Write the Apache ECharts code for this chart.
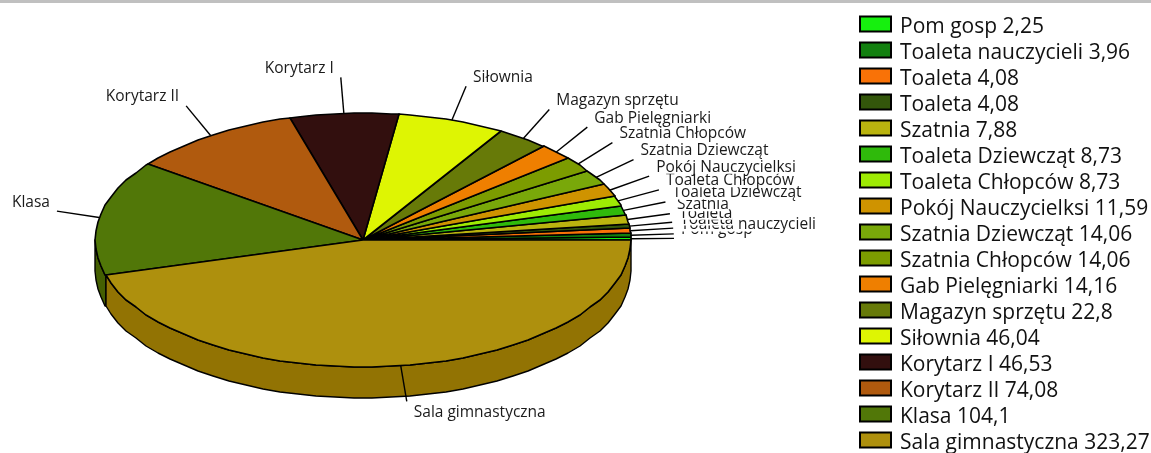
<!DOCTYPE html>
<html>
<head>
<meta charset="utf-8">
<style>html,body{margin:0;padding:0;background:#fff}#chart{width:1151px;height:453px}</style>
<script src="https://cdn.jsdelivr.net/npm/echarts@6/dist/echarts.min.js"></script>
</head>
<body>
<div id="chart"></div>
<script>
// Room areas of the school building, drawn as a tilted pie with a side wall.
const categories = ['Pom gosp', 'Toaleta nauczycieli', 'Toaleta', 'Toaleta', 'Szatnia', 'Toaleta Dziewcząt',
  'Toaleta Chłopców', 'Pokój Nauczycielksi', 'Szatnia Dziewcząt', 'Szatnia Chłopców', 'Gab Pielęgniarki',
  'Magazyn sprzętu', 'Siłownia', 'Korytarz I', 'Korytarz II', 'Klasa', 'Sala gimnastyczna'];
const areas = [2.25, 3.96, 4.08, 4.08, 7.88, 8.73, 8.73, 11.59, 14.06, 14.06, 14.16, 22.8, 46.04, 46.53, 74.08, 104.1, 323.27];
const colors = ['#16f00e', '#12800f', '#f97207', '#33560b', '#bab40f', '#2fba0b', '#9eeb04', '#cf9300', '#79a80a',
  '#7c9c00', '#ef7f00', '#677a08', '#def503', '#320f0e', '#b05a0e', '#517708', '#ae900d'];

const ZW = '\u200b';
const CX = 363, CY = 240, RX = 268, RY = 127, DEPTH = 31;
const LEAD_X = 43, LEAD_Y = 36, ARC_STEP = 4;
const FONT = 'Open Sans';

const total = areas.reduce((a, b) => a + b, 0);
const rad = d => d * Math.PI / 180;
const px = (d, dy = 0) => [Math.round(CX + RX * Math.cos(rad(d))), Math.round(CY - RY * Math.sin(rad(d))) + dy];

function arcAngles(a0, a1) {
  const out = [a0];
  let g = (Math.floor(a0 / ARC_STEP) + 1) * ARC_STEP;
  for (; g < a1; g += ARC_STEP) out.push(g);
  out.push(a1);
  return out;
}
function shade(hex) {
  const n = parseInt(hex.slice(1), 16);
  const c = (s, f) => Math.round(((n >> s) & 255) * f);
  return `rgb(${c(16, 0.84)},${c(8, 0.8)},${c(0, 0.2)})`;
}

// Each slice is its own series so the legend lists it with its own colour.
const seen = {};
let running = 0;
const series = areas.map((value, i) => {
  const before = running;
  running += value;
  let legendName = `${categories[i]} ${String(value).replace('.', ',')}`;
  while (seen[legendName]) legendName += ZW;
  seen[legendName] = true;
  return {
    type: 'custom',
    name: legendName,
    coordinateSystem: 'none',
    silent: true,
    animation: false,
    z: 2 + i,
    itemStyle: { color: colors[i] },
    data: [[value, before]],
    renderItem: (params, api) => {
      const v = api.value(0), start = api.value(1);
      const a0 = start / total * 360, a1 = (start + v) / total * 360, mid = (a0 + a1) / 2;
      const children = [];
      const w0 = Math.max(a0, 180), w1 = Math.min(a1, 360);
      if (w1 > w0) {
        const ang = arcAngles(w0, w1);
        const pts = ang.map(d => px(d)).concat(ang.slice().reverse().map(d => px(d, DEPTH)));
        children.push({
          type: 'polygon', shape: { points: pts },
          style: { fill: shade(colors[i]), stroke: '#000', lineWidth: 1.4, lineJoin: 'round' }
        });
      }
      const top = [[CX, CY]].concat(arcAngles(a0, a1).map(d => px(d)));
      children.push({
        type: 'polygon', shape: { points: top },
        style: { fill: colors[i], stroke: '#000', lineWidth: 1.6, lineJoin: 'round' }
      });
      const c = Math.cos(rad(mid)), s = Math.sin(rad(mid));
      const sx = CX + RX * c, sy = CY - RY * s;
      const ex = CX + (RX + LEAD_X) * c, ey = CY - (RY + LEAD_Y) * s;
      children.push({
        type: 'line', shape: { x1: sx, y1: sy, x2: ex, y2: ey },
        style: { stroke: '#000', lineWidth: 1.4 }
      });
      children.push({
        type: 'text',
        x: c >= 0 ? ex + 7 : ex - 7,
        y: s >= 0 ? ey - 9 : ey + 11,
        style: {
          text: categories[i], fill: '#1a1a1a', font: `15.5px "${FONT}"`,
          align: c >= 0 ? 'left' : 'right', verticalAlign: 'middle',
          backgroundColor: '#fff', lineHeight: 13
        }
      });
      return { type: 'group', children };
    }
  };
});

const chart = echarts.init(document.getElementById('chart'), null, { renderer: 'canvas' });
chart.setOption({
  animation: false,
  backgroundColor: '#fff',
  legend: {
    orient: 'vertical',
    left: 859,
    top: 10.5,
    height: 500,
    padding: 0,
    itemWidth: 31,
    itemHeight: 15,
    itemGap: -1,
    icon: 'rect',
    selectedMode: false,
    itemStyle: { borderColor: '#000', borderWidth: 2 },
    // The blank first line sets the legend text slightly below its swatch.
    textStyle: { fontFamily: FONT, fontSize: 21, color: '#111', lineHeight: 6, padding: [0, 0, 0, 4] },
    formatter: n => '\n' + n.split(ZW).join(''),
    data: series.map(s => s.name)
  },
  graphic: [{
    type: 'rect', left: 0, top: 0, shape: { width: 1151, height: 3 },
    style: { fill: '#c0c0c0' }, silent: true
  }],
  series
});
</script>
</body>
</html>
